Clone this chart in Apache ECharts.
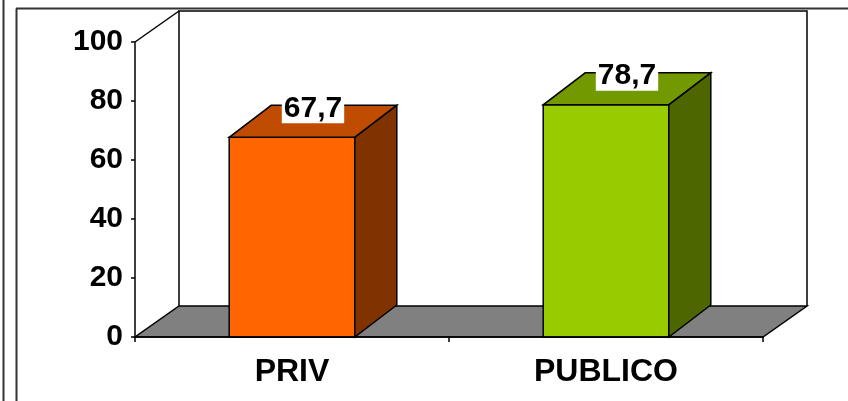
<!DOCTYPE html>
<html>
<head>
<meta charset="utf-8">
<script src="https://cdn.jsdelivr.net/npm/echarts@6/dist/echarts.min.js"></script>
<style>
html,body{margin:0;padding:0;background:#fff;}
#chart{width:848px;height:401px;}
</style>
</head>
<body>
<div id="chart"></div>
<script>
// ---- data ----
const categories = ['PRIV', 'PUBLICO'];
const values = [67.7, 78.7];
const yMin = 0;
const yMax = 100;
const yInterval = 20;

// ---- styles ----
const FONT = 'Liberation Sans, Arial, sans-serif';
const frontColors = ['#FF6600', '#99CC00'];
const topColors = ['#BF4C00', '#739900'];
const sideColors = ['#803300', '#4D6600'];
const BAR_DX = 42, BAR_DY = 32;
const WALL_DX = 44, WALL_DY = 31;

const chart = echarts.init(document.getElementById('chart'), null, {renderer: 'canvas'});

function fmt(v) { return v.toFixed(1).replace('.', ','); }

const option = {
  animation: false,
  backgroundColor: '#fff',
  grid: {left: 135, right: 85, top: 42, bottom: 64, containLabel: false},
  xAxis: {
    type: 'category',
    data: categories,
    boundaryGap: true,
    axisLine: {show: true, lineStyle: {color: '#000', width: 1.5}},
    axisTick: {show: true, alignWithLabel: false, length: 5, lineStyle: {color: '#000', width: 1.5}},
    axisLabel: {color: '#000', fontFamily: FONT, fontWeight: 'bold', fontSize: 32, margin: 19},
    splitLine: {show: false},
    z: 5
  },
  yAxis: {
    type: 'value',
    min: yMin, max: yMax, interval: yInterval,
    axisLine: {show: true, lineStyle: {color: '#000', width: 1.5}},
    axisTick: {show: true, inside: false, length: 4, lineStyle: {color: '#000', width: 1.5}},
    axisLabel: {color: '#000', fontFamily: FONT, fontWeight: 'bold', fontSize: 30, margin: 12},
    splitLine: {show: false},
    z: 5
  },
  graphic: [
    {type: 'line', shape: {x1: 3.5, y1: 0, x2: 3.5, y2: 401}, style: {stroke: '#333', lineWidth: 2}, z: 100},
    {type: 'line', shape: {x1: 16.5, y1: 8.5, x2: 16.5, y2: 401}, style: {stroke: '#333', lineWidth: 2}, z: 100},
    {type: 'line', shape: {x1: 16, y1: 8.5, x2: 848, y2: 8.5}, style: {stroke: '#333', lineWidth: 2}, z: 100}
  ],
  series: [
    {
      type: 'custom',
      name: 'walls',
      coordinateSystem: 'cartesian2d',
      data: [[0, 0]],
      z: 1,
      silent: true,
      clip: false,
      renderItem: function (params, api) {
        const cs = params.coordSys;
        const L = cs.x, R = cs.x + cs.width, T = cs.y, B = cs.y + cs.height;
        return {
          type: 'group',
          children: [
            {type: 'polygon', shape: {points: [[L, B], [R, B], [R + WALL_DX, B - WALL_DY], [L + WALL_DX, B - WALL_DY]]},
             style: {fill: '#808080', stroke: '#000', lineWidth: 1.5}},
            {type: 'polyline', shape: {points: [[L + WALL_DX, B - WALL_DY], [L + WALL_DX, T - WALL_DY], [R + WALL_DX, T - WALL_DY], [R + WALL_DX, B - WALL_DY]]},
             style: {fill: 'none', stroke: '#000', lineWidth: 1.5}},
            {type: 'line', shape: {x1: L, y1: T, x2: L + WALL_DX, y2: T - WALL_DY},
             style: {stroke: '#000', lineWidth: 1.5}}
          ]
        };
      }
    },
    {
      type: 'custom',
      name: 'bars',
      coordinateSystem: 'cartesian2d',
      data: values.map((v, i) => [i, v]),
      z: 3,
      clip: false,
      renderItem: function (params, api) {
        const i = api.value(0);
        const v = api.value(1);
        const base = api.coord([i, 0]);
        const top = api.coord([i, v]);
        const band = api.size([1, 0])[0];
        const w = band * 0.4;
        const x0 = base[0] - w / 2, x1 = base[0] + w / 2;
        const yb = base[1], yt = top[1];
        const idx = params.dataIndex;
        const st = {stroke: '#000', lineWidth: 1.5, lineJoin: 'miter'};
        return {
          type: 'group',
          children: [
            {type: 'polygon', shape: {points: [[x0, yb], [x1, yb], [x1, yt], [x0, yt]]},
             style: Object.assign({fill: frontColors[idx]}, st)},
            {type: 'polygon', shape: {points: [[x0, yt], [x1, yt], [x1 + BAR_DX, yt - BAR_DY], [x0 + BAR_DX, yt - BAR_DY]]},
             style: Object.assign({fill: topColors[idx]}, st)},
            {type: 'polygon', shape: {points: [[x1, yt], [x1 + BAR_DX, yt - BAR_DY], [x1 + BAR_DX, yb - BAR_DY], [x1, yb]]},
             style: Object.assign({fill: sideColors[idx]}, st)},
            {type: 'text', z2: 10,
             style: {text: fmt(v), x: base[0] + BAR_DX / 2, y: yt - 29,
                     align: 'center', verticalAlign: 'middle',
                     fill: '#000', font: 'bold 30px ' + FONT,
                     backgroundColor: '#fff', padding: [0, 2, 0, 2], lineHeight: 30}}
          ]
        };
      }
    }
  ]
};

chart.setOption(option);
</script>
</body>
</html>
